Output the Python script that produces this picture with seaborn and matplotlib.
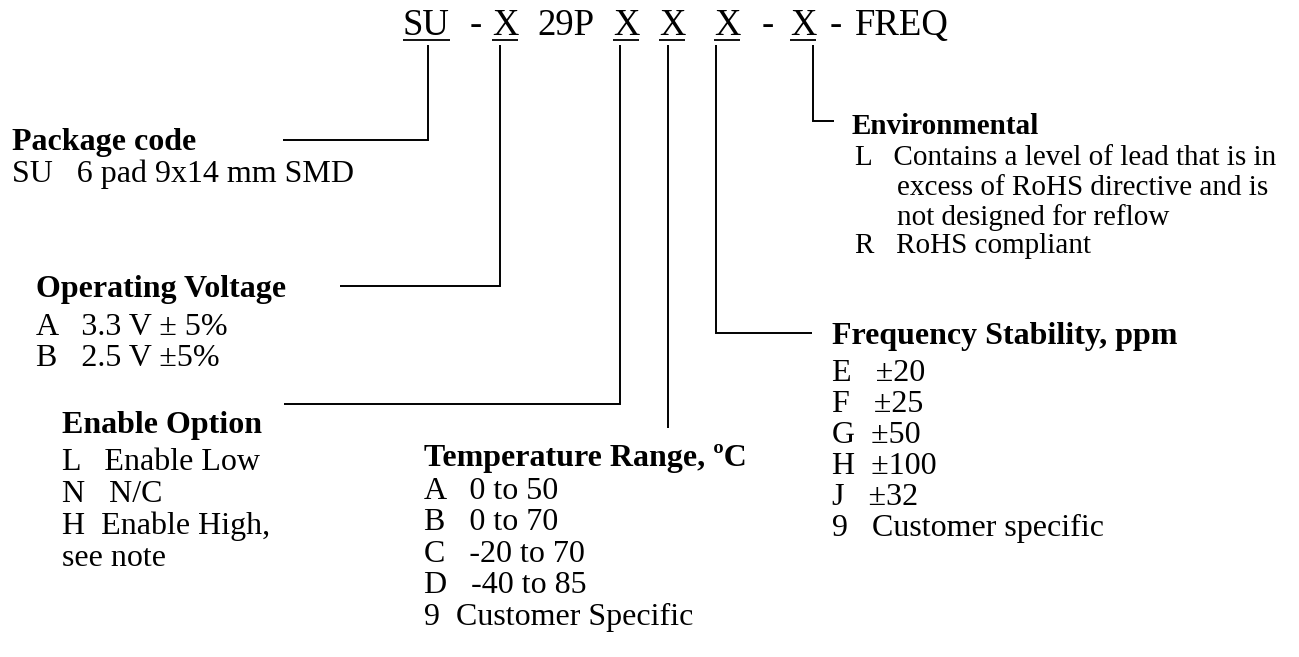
import matplotlib
matplotlib.use("Agg")
import matplotlib.pyplot as plt
import seaborn as sns

# part number breakdown
code_tokens = ["SU", "-", "X", "29P", "X", "X", "X", "-", "X", "-", "FREQ"]
code_underlined = [True, False, True, False, True, True, True, False, True, False, False]

package_title = "Package code"
package_items = ["SU   6 pad 9x14 mm SMD"]

voltage_title = "Operating Voltage"
voltage_items = ["A   3.3 V ± 5%", "B   2.5 V ±5%"]

enable_title = "Enable Option"
enable_items = ["L   Enable Low", "N   N/C", "H  Enable High,", "see note"]

temp_title = "Temperature Range, ºC"
temp_items = ["A   0 to 50", "B   0 to 70", "C   -20 to 70", "D   -40 to 85", "9  Customer Specific"]

freq_title = "Frequency Stability, ppm"
freq_items = ["E   ±20", "F   ±25", "G  ±50", "H  ±100", "J   ±32", "9   Customer specific"]

env_title = "Environmental"
env_items = ["L   Contains a level of lead that is in", "excess of RoHS directive and is",
             "not designed for reflow", "R   RoHS compliant"]

# layout (pixels, y from top)
token_x = [403, 470, 492, 537, 613, 659, 714, 762, 790, 830, 855]
top_base = 35

sections = [
    # title, items, title x, title baseline, item x list, item baselines, size
    (package_title, package_items, 12, 150, [12], [182], 23),
    (voltage_title, voltage_items, 36, 297, [36, 36], [335, 366], 23),
    (enable_title, enable_items, 62, 433, [62] * 4, [470, 502, 534, 566], 23),
    (temp_title, temp_items, 424, 466, [424] * 5, [499, 530, 562, 593, 625], 23),
    (freq_title, freq_items, 832, 344, [832] * 6, [381, 412, 443, 474, 505, 536], 23),
    (env_title, env_items, 852, 134, [855, 897, 897, 855], [165, 195, 225, 253], 21),
]

# connector: vertical x, bottom y, end of horizontal leg
connectors = [(428, 140, 283), (500, 286, 340), (620, 404, 284),
              (668, 428, None), (716, 333, 812), (813, 121, 834)]

sns.set_theme(style="white")
plt.rcParams["font.family"] = ["Liberation Serif", "DejaVu Serif"]

fig = plt.figure(figsize=(12.99, 6.57), dpi=100)
ax = fig.add_axes([0, 0, 1, 1])
ax.set_xlim(0, 1299)
ax.set_ylim(657, 0)
ax.axis("off")

tok_artists = []
for tok, x in zip(code_tokens, token_x):
    t = ax.text(x, top_base, tok, fontsize=26.5, va="baseline", ha="left", color="black")
    tok_artists.append(t)

fig.canvas.draw()
r = fig.canvas.get_renderer()
inv = ax.transData.inverted()
for t, ul in zip(tok_artists, code_underlined):
    if not ul:
        continue
    bb = t.get_window_extent(r)
    (x0, _), (x1, _) = inv.transform([[bb.x0, 0], [bb.x1, 0]])
    ax.plot([x0, x1], [40, 40], color="black", lw=1.3, solid_capstyle="butt")

for xv, yb, xh in connectors:
    xs = [xv, xv] if xh is None else [xv, xv, xh]
    ys = [45, yb] if xh is None else [45, yb, yb]
    ax.plot(xs, ys, color="black", lw=1.4, solid_joinstyle="miter", solid_capstyle="butt")

for title, items, tx, ty, ixs, iys, fs in sections:
    ax.text(tx, ty, title, fontsize=fs, fontweight="bold", va="baseline", ha="left", color="black")
    for it, ix, iy in zip(items, ixs, iys):
        ax.text(ix, iy, it, fontsize=fs, va="baseline", ha="left", color="black")

fig.savefig("out.png", dpi=100, facecolor="white")
